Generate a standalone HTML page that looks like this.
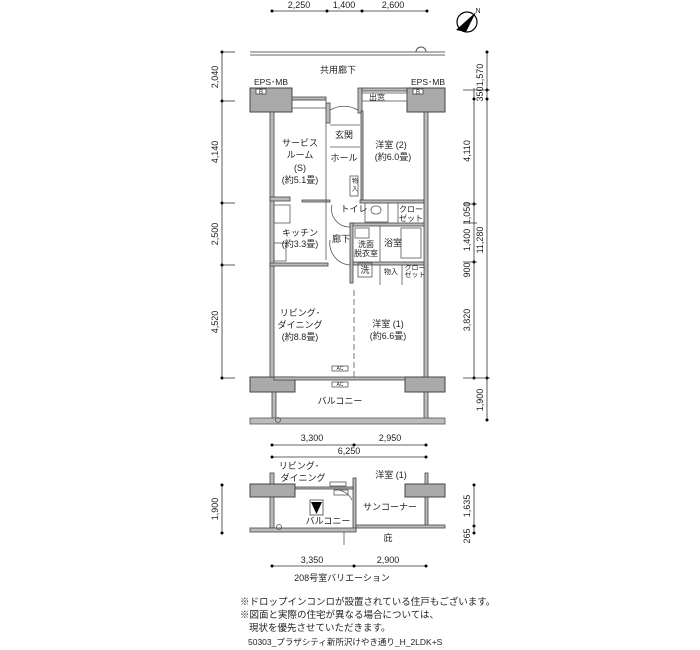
<!DOCTYPE html>
<html><head><meta charset="utf-8"><style>
html,body{margin:0;padding:0;background:#fff;}
svg{display:block;}
text{font-family:"Liberation Sans","Noto Sans CJK JP",sans-serif;fill:#222;}
</style></head><body>
<svg width="700" height="650" viewBox="0 0 700 650" xmlns="http://www.w3.org/2000/svg">
<g font-size="9" text-anchor="middle">
<line x1="272" y1="11" x2="427" y2="11" stroke="#333" stroke-width="0.8"/>
<g fill="#000"><circle cx="272" cy="11" r="1.5"/><circle cx="327" cy="11" r="1.5"/><circle cx="362" cy="11" r="1.5"/><circle cx="427" cy="11" r="1.5"/></g>
<text x="299" y="8">2,250</text><text x="344" y="8">1,400</text><text x="393" y="8">2,600</text>
<circle cx="467" cy="22" r="10" fill="#fff" stroke="#000" stroke-width="1.2"/>
<polygon points="456,30 476,12 466,32" fill="#000"/>
<text x="478" y="13" font-size="7">N</text>
<line x1="250" y1="52" x2="445" y2="52" stroke="#666" stroke-width="1"/>
<line x1="250" y1="55" x2="445" y2="55" stroke="#666" stroke-width="1"/>
<path d="M416,52 a5,5 0 0 1 10,0" fill="none" stroke="#555"/>
<text x="338" y="73">共用廊下</text>
<line x1="222" y1="52" x2="222" y2="378" stroke="#333" stroke-width="0.8"/>
<g fill="#000"><circle cx="222" cy="52" r="1.5"/><circle cx="222" cy="101" r="1.5"/><circle cx="222" cy="203" r="1.5"/><circle cx="222" cy="265" r="1.5"/><circle cx="222" cy="378" r="1.5"/></g>
<g stroke="#333" stroke-width="0.8"><line x1="222" y1="52" x2="235" y2="52"/><line x1="222" y1="101" x2="235" y2="101"/><line x1="222" y1="203" x2="235" y2="203"/><line x1="222" y1="265" x2="235" y2="265"/><line x1="222" y1="378" x2="235" y2="378"/></g>
<text transform="translate(218,77) rotate(-90)">2,040</text>
<text transform="translate(218,152) rotate(-90)">4,140</text>
<text transform="translate(218,234) rotate(-90)">2,500</text>
<text transform="translate(218,322) rotate(-90)">4,520</text>
<line x1="474" y1="88" x2="474" y2="378" stroke="#333" stroke-width="0.8"/>
<line x1="487" y1="52" x2="487" y2="420" stroke="#333" stroke-width="0.8"/>
<g fill="#000"><circle cx="487" cy="52" r="1.5"/><circle cx="487" cy="90" r="1.5"/><circle cx="487" cy="99" r="1.5"/><circle cx="474" cy="99" r="1.5"/><circle cx="474" cy="204" r="1.5"/><circle cx="474" cy="262" r="1.5"/><circle cx="474" cy="378" r="1.5"/><circle cx="487" cy="378" r="1.5"/><circle cx="487" cy="420" r="1.5"/></g>
<g stroke="#333" stroke-width="0.8"><line x1="463" y1="90" x2="490" y2="90"/><line x1="463" y1="204" x2="477" y2="204"/><line x1="463" y1="223" x2="477" y2="223"/><line x1="463" y1="262" x2="477" y2="262"/><line x1="463" y1="378" x2="490" y2="378"/></g>
<text transform="translate(483,75) rotate(-90)">1,570</text>
<text transform="translate(483,94) rotate(-90)">350</text>
<text transform="translate(470,151) rotate(-90)">4,110</text>
<text transform="translate(470,213) rotate(-90)">1,050</text>
<text transform="translate(470,240) rotate(-90)">1,400</text>
<text transform="translate(470,270) rotate(-90)">900</text>
<text transform="translate(470,320) rotate(-90)">3,820</text>
<text transform="translate(483,240) rotate(-90)">11,280</text>
<text transform="translate(483,400) rotate(-90)">1,900</text>
</g>
<g fill="#aaa" stroke="#444" stroke-width="1">
<rect x="250" y="88" width="42" height="24"/>
<rect x="407" y="88" width="38" height="24"/>
<rect x="250" y="377" width="45" height="15"/>
<rect x="405" y="377" width="40" height="15"/>
</g>
<g fill="#fff" stroke="#444" stroke-width="0.8"><rect x="256" y="89" width="10" height="5"/><rect x="413" y="89" width="10" height="5"/></g>
<g font-size="6" text-anchor="middle"><text x="261" y="94">B</text><text x="418" y="94">B</text></g>
<g font-size="8.5" text-anchor="middle"><text x="271" y="85">EPS･MB</text><text x="428" y="85">EPS･MB</text></g>
<g fill="#bbb" stroke="#444" stroke-width="0.8">
<rect x="270" y="112" width="4" height="265"/>
<rect x="424" y="112" width="4" height="265"/>
<rect x="326" y="103" width="4" height="20"/>
<rect x="358" y="88" width="4" height="25"/>
<rect x="362" y="88" width="45" height="3"/>
<rect x="292" y="97" width="34" height="3"/>
<rect x="270" y="197" width="20" height="4"/>
<rect x="302" y="200" width="28" height="2"/>
<rect x="270" y="263" width="58" height="3"/>
<rect x="361" y="111" width="2" height="90"/>
<rect x="360" y="200" width="64" height="3"/>
<rect x="350" y="223" width="74" height="3"/>
<rect x="350" y="262" width="74" height="3"/>
<rect x="350" y="223" width="3" height="60"/>
<rect x="274" y="377" width="131" height="3"/>
<rect x="272" y="392" width="4" height="28"/>
<rect x="424" y="392" width="4" height="28"/>
</g>
<g fill="none" stroke="#555" stroke-width="0.8">
<rect x="250" y="418" width="195" height="6" fill="#bbb"/>
<line x1="326" y1="123" x2="326" y2="260"/>
<line x1="330" y1="125" x2="360" y2="125"/>
<line x1="330" y1="147" x2="360" y2="147"/>
<path d="M330,110 a28,28 0 0 1 28,0"/>
<path d="M332,205 a18,18 0 0 0 18,22"/>
<path d="M330,240 a22,22 0 0 0 20,25"/>
<rect x="365" y="203" width="23" height="19"/>
<rect x="371" y="206" width="10" height="8" rx="4"/>
<line x1="398" y1="203" x2="398" y2="223"/>
<rect x="401" y="228" width="20" height="30"/>
<line x1="380" y1="226" x2="380" y2="262"/>
<rect x="355" y="228" width="14" height="10"/>
<rect x="358" y="263" width="14" height="14"/>
<line x1="380" y1="265" x2="380" y2="285"/>
<line x1="402" y1="265" x2="402" y2="285"/>
<line x1="354" y1="290" x2="354" y2="377" stroke-dasharray="6,3"/>
<rect x="274" y="205" width="16" height="18"/>
<rect x="274" y="243" width="12" height="18"/>
<rect x="350" y="176" width="8" height="20"/>
<rect x="332" y="366" width="16" height="5"/>
<rect x="332" y="382" width="16" height="5"/>
<rect x="362" y="93" width="45" height="8"/>
<rect x="292" y="100" width="34" height="8"/>
<circle cx="278" cy="420" r="2.5"/>
</g>
<g font-size="9" text-anchor="middle">
<text x="377" y="100" font-size="8">出窓</text>
<text x="300" y="146">サービス</text><text x="300" y="158">ルーム</text><text x="300" y="171">(S)</text><text x="300" y="183">(約5.1畳)</text>
<text x="344" y="138">玄関</text><text x="344" y="161">ホール</text>
<text x="391" y="148">洋室 (2)</text><text x="393" y="160">(約6.0畳)</text>
<text x="355" y="183" font-size="6">物</text><text x="355" y="191" font-size="6">入</text>
<text x="354" y="212">トイレ</text>
<text x="411" y="212" font-size="8">クロー</text><text x="411" y="221" font-size="8">ゼット</text>
<text x="300" y="236">キッチン</text><text x="300" y="247">(約3.3畳)</text>
<text x="341" y="242">廊下</text>
<text x="366" y="247" font-size="8">洗面</text><text x="366" y="256" font-size="8">脱衣室</text>
<text x="393" y="246">浴室</text>
<text x="365" y="273">洗</text>
<text x="391" y="274" font-size="7">物入</text>
<text x="415" y="270" font-size="7">クロー</text><text x="415" y="277" font-size="7">ゼット</text>
<text x="300" y="316">リビング･</text><text x="300" y="328">ダイニング</text><text x="300" y="340">(約8.8畳)</text>
<text x="388" y="327">洋室 (1)</text><text x="388" y="339">(約6.6畳)</text>
<text x="340" y="370" font-size="5">AC</text><text x="340" y="386" font-size="5">AC</text>
<text x="340" y="404">バルコニー</text>
<line x1="272" y1="445" x2="426" y2="445" stroke="#333" stroke-width="0.8"/>
<line x1="272" y1="457" x2="426" y2="457" stroke="#333" stroke-width="0.8"/>
<g fill="#000"><circle cx="272" cy="445" r="1.5"/><circle cx="354" cy="445" r="1.5"/><circle cx="426" cy="445" r="1.5"/><circle cx="272" cy="457" r="1.5"/><circle cx="426" cy="457" r="1.5"/></g>
<text x="312" y="441">3,300</text><text x="390" y="441">2,950</text><text x="349" y="454">6,250</text>
<text x="299" y="469">リビング･</text><text x="303" y="481">ダイニング</text>
<text x="391" y="478">洋室 (1)</text>
<text x="390" y="510">サンコーナー</text>
<text x="328" y="524">バルコニー</text>
<text x="388" y="541">庇</text>
<line x1="222" y1="485" x2="222" y2="533" stroke="#333" stroke-width="0.8"/>
<g fill="#000"><circle cx="222" cy="485" r="1.5"/><circle cx="222" cy="533" r="1.5"/><circle cx="474" cy="485" r="1.5"/><circle cx="474" cy="526" r="1.5"/><circle cx="474" cy="533" r="1.5"/></g>
<line x1="474" y1="485" x2="474" y2="533" stroke="#333" stroke-width="0.8"/>
<text transform="translate(218,509) rotate(-90)">1,900</text>
<text transform="translate(470,506) rotate(-90)">1,635</text>
<text transform="translate(470,536) rotate(-90)">265</text>
<line x1="272" y1="566" x2="426" y2="566" stroke="#333" stroke-width="0.8"/>
<g fill="#000"><circle cx="272" cy="566" r="1.5"/><circle cx="354" cy="566" r="1.5"/><circle cx="426" cy="566" r="1.5"/></g>
<text x="312" y="563">3,350</text><text x="388" y="563">2,900</text>
<text x="342" y="581">208号室バリエーション</text>
</g>
<g fill="#aaa" stroke="#444" stroke-width="1">
<rect x="250" y="484" width="45" height="13"/>
<rect x="405" y="484" width="40" height="13"/>
</g>
<g fill="#bbb" stroke="#444" stroke-width="0.8">
<rect x="270" y="473" width="4" height="11"/><rect x="270" y="497" width="4" height="31"/>
<rect x="425" y="473" width="3" height="11"/><rect x="425" y="497" width="3" height="29"/>
<rect x="353" y="478" width="3" height="52"/>
<rect x="250" y="528" width="106" height="4"/>
<rect x="356" y="525" width="89" height="3"/>
<rect x="295" y="487" width="58" height="2"/>
</g>
<g fill="none" stroke="#555" stroke-width="0.8">
<rect x="330" y="482" width="16" height="4"/><rect x="334" y="490" width="14" height="5"/>
<path d="M352,500 a18,18 0 0 0 -18,-10"/>
<circle cx="279" cy="527" r="2.5"/>
<line x1="344" y1="532" x2="344" y2="545"/>
</g>
<rect x="310" y="500" width="13" height="15" fill="#fff" stroke="#444" stroke-width="0.8"/>
<polygon points="311,502 322,502 316.5,514" fill="#000"/>
<g font-size="9.5">
<text x="240" y="605">※ドロップインコンロが設置されている住戸もございます。</text>
<text x="240" y="618">※図面と実際の住宅が異なる場合については、</text>
<text x="249" y="631">現状を優先させていただきます。</text>
<text x="248" y="645" font-size="8.5">50303_プラザシティ新所沢けやき通り_H_2LDK+S</text>
</g>
</svg>
</body></html>
